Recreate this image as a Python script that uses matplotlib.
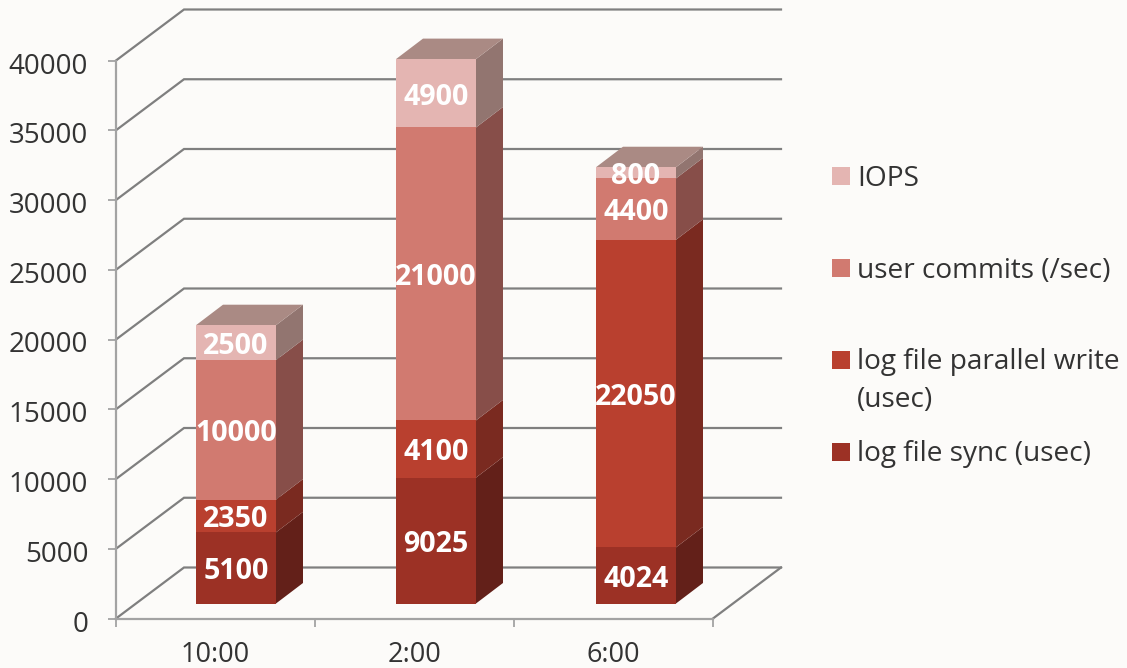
import matplotlib
matplotlib.use("Agg")
import matplotlib.pyplot as plt
from matplotlib.patches import Rectangle
from matplotlib.transforms import ScaledTranslation

plt.rcParams['font.family'] = ['Open Sans', 'DejaVu Sans']

categories = ['10:00', '2:00', '6:00']
log_file_sync = [5100, 9025, 4024]
log_file_parallel = [2350, 4100, 22050]
user_commits = [10000, 21000, 4400]
iops = [2500, 4900, 800]
series_values = [log_file_sync, log_file_parallel, user_commits, iops]
series_names = ['log file sync (usec)', 'log file parallel write\n(usec)',
                'user commits (/sec)', 'IOPS']
front_colors = ['#9C3125', '#B9402F', '#D17A70', '#E4B5B2']
side_colors = ['#632019', '#7A2A20', '#874E49', '#927570']
top_colors = ['#632019', '#7A2A20', '#874E49', '#AA8A84']
y_ticks = [0, 5000, 10000, 15000, 20000, 25000, 30000, 35000, 40000]

W, H = 1127, 668
BG = '#FCFBF9'
L, R, T, B = 116, 713, 60.5, 618.5
fig = plt.figure(figsize=(W / 100, H / 100), dpi=100, facecolor=BG)
ax = fig.add_axes([L / W, 1 - B / H, (R - L) / W, (B - T) / H], facecolor='none')
ax.set_xlim(0, 3)
ax.set_ylim(0, 40000)

# pixel-to-data scales for the fake-3D depth offsets
sx = 3 / (R - L)
sy = 40000 / (B - T)
wall_dx, wall_dy = 68 * sx, 51 * sy
front_dx, front_dy = 20.5 * sx, 15 * sy
depth_dx, depth_dy = 27 * sx, 20.5 * sy
bar_w = 80 * sx
slot = 200 * sx

GRID = '#7F7F7F'
for v in y_ticks:
    ax.plot([0, wall_dx, 3 + wall_dx], [v, v + wall_dy, v + wall_dy],
            color=GRID, lw=1.6, clip_on=False, zorder=1, solid_joinstyle='miter')
ax.plot([3, 3 + wall_dx], [0, wall_dy], color=GRID, lw=1.6, clip_on=False, zorder=1)

for i, cat in enumerate(categories):
    x0 = 0.5 + i * slot - bar_w / 2 + front_dx
    bottom = front_dy
    for s, vals in enumerate(series_values):
        h = vals[i]
        x1 = x0 + bar_w
        ax.fill([x1, x1 + depth_dx, x1 + depth_dx, x1],
                [bottom, bottom + depth_dy, bottom + h + depth_dy, bottom + h],
                color=side_colors[s], lw=0, clip_on=False, zorder=3)
        ax.bar(x0, h, width=bar_w, bottom=bottom, align='edge', color=front_colors[s],
               lw=0, clip_on=False, zorder=4)
        if s == len(series_values) - 1:
            top = bottom + h
            ax.fill([x0, x1, x1 + depth_dx, x0 + depth_dx],
                    [top, top, top + depth_dy, top + depth_dy],
                    color=top_colors[s], lw=0, clip_on=False, zorder=3)
        ax.annotate(str(h), (x0 + bar_w / 2, bottom + h / 2), xytext=(0, -2.8),
                    textcoords='offset points', color='white', fontsize=20.6,
                    fontweight='bold', ha='center', va='center', zorder=6,
                    annotation_clip=False)
        bottom += h

AXC = '#A3A3A3'
for side in ('top', 'right'):
    ax.spines[side].set_visible(False)
for side in ('left', 'bottom'):
    ax.spines[side].set_color(AXC)
    ax.spines[side].set_linewidth(1.6)
    ax.spines[side].set_zorder(2)

ax.set_yticks(y_ticks)
ax.set_yticklabels([str(v) for v in y_ticks])
ax.set_xticks([0, 1, 2, 3])
ax.set_xticklabels([])
ax.set_xticks([0.5, 1.5, 2.5], minor=True)
ax.set_xticklabels(categories, minor=True)
ax.tick_params(axis='y', length=6, width=1.3, color=AXC, pad=14, labelsize=20, labelcolor='#333333')
ax.tick_params(axis='x', which='major', length=6, width=1.3, color=AXC)
ax.tick_params(axis='x', which='minor', length=0, pad=16, labelsize=19.5, labelcolor='#333333')
label_shift = ScaledTranslation(0, -2.5 / 100, fig.dpi_scale_trans)
for lab in ax.get_yticklabels():
    lab.set_transform(lab.get_transform() + label_shift)

# legend, placed by hand because the rows are unevenly spaced
legend_y = [452, 360, 268, 176]
for name, col, y in zip(series_names, front_colors, legend_y):
    fig.add_artist(Rectangle((832 / W, 1 - (y + 9) / H), 18 / W, 18 / H,
                             transform=fig.transFigure, facecolor=col, lw=0))
    fig.text(857 / W, 1 - (y - 11.5) / H, name, fontsize=20.2, color='#333333',
             ha='left', va='top', linespacing=1.45)

fig.savefig('out.png', dpi=100, facecolor=BG)
